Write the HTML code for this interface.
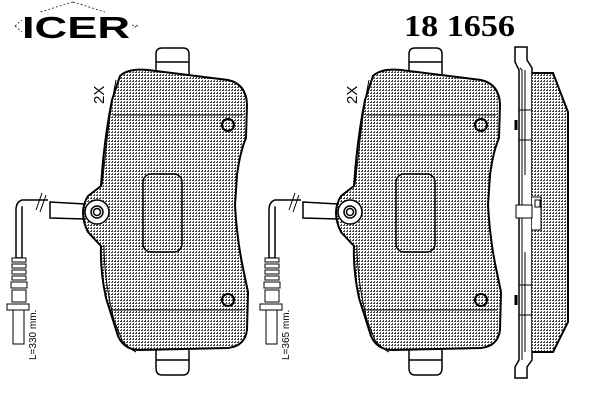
<!DOCTYPE html>
<html><head><meta charset="utf-8"><style>body{margin:0;background:#fff}svg{display:block}</style></head><body>
<svg width="600" height="400" viewBox="0 0 600 400" xmlns="http://www.w3.org/2000/svg">
<defs>
<pattern id="h" width="3" height="3" patternUnits="userSpaceOnUse"><rect width="3" height="3" fill="#fff"/><rect width="2" height="1" fill="#444"/><rect x="1" y="2" width="1" height="1" fill="#444"/></pattern>
<g id="pad" fill="none" stroke="#000" stroke-width="1.5">
<path d="M156,72 L156,54 Q156,48 162,48 L183,48 Q189,48 189,54 L189,74 M156,62 L189,62" />
<path d="M156,346 L156,368 Q156,375 162,375 L183,375 Q189,375 189,368 L189,346 M156,360 L189,360"/>
<path d="M120,76 Q128,68 148,70 L228,80 Q246,84 247,104 L246,138 Q240,152 237,175 L235,205 Q237,240 243,268 L248,292 L247,330 Q245,346 228,348 L140,350 Q124,350 118,336 L106,298 Q100,270 101,246 L88,232 Q78,212 88,196 L101,186 Q104,140 112,100 Z" fill="url(#h)" stroke-width="2"/>
<path d="M116,80 Q110,110 106,150 L102,185 M104,245 Q104,280 114,320 L122,340 Q128,348 136,352" stroke-width="1"/>
<path d="M113,115 L243,115 M110,310 L244,310" stroke-width="1"/>
<circle cx="228" cy="125" r="6" stroke-width="2"/><circle cx="228" cy="300" r="6" stroke-width="2"/>
<rect x="143" y="174" width="39" height="78" rx="8"/>
<circle cx="97" cy="212" r="12" fill="#fff"/><circle cx="97" cy="212" r="6"/><circle cx="97" cy="212" r="3.5"/>
<path d="M85,204 L50,202 L50,218 L85,219"/>
<path d="M48,200 L22,200 Q16,202 16,210 L16,258 M22,207 Q22,206 22,212 L22,258 M16,258 L22,258" stroke-width="1.5"/>
<path d="M36,210 L42,193 M40,212 L46,195" stroke-width="1"/>
<path d="M12,258 h14 v4 h-14z M12,264 h14 v4 h-14z M12,270 h14 v4 h-14z M12,276 h14 v4 h-14z M11,282 h16 v6 h-16z M12,290 h14 v12 h-14z M7,304 h22 v6 h-22z M13,310 h11 v34 h-11z" stroke-width="1" fill="#fff"/>
</g>
</defs>
<text x="22" y="38" font-family="Liberation Sans,sans-serif" font-weight="bold" font-size="31" textLength="108" lengthAdjust="spacingAndGlyphs">ICER</text>
<path d="M15,26 L22,20 M15,26 L22,32 M73,2 L40,12 M73,2 L105,12 M132,25 L138,26 L132,28" stroke="#000" stroke-width="0.7" stroke-dasharray="2,2" fill="none"/>
<text x="404" y="36" font-family="Liberation Serif,serif" font-weight="bold" font-size="31" textLength="111" lengthAdjust="spacingAndGlyphs">18 1656</text>
<use href="#pad"/>
<use href="#pad" transform="translate(253,0)"/>
<text transform="translate(104,104) rotate(-90)" font-family="Liberation Sans,sans-serif" font-size="15">2X</text>
<text transform="translate(357,104) rotate(-90)" font-family="Liberation Sans,sans-serif" font-size="15">2X</text>
<text transform="translate(36,360) rotate(-90)" font-family="Liberation Sans,sans-serif" font-size="10">L=330 mm.</text>
<text transform="translate(289,360) rotate(-90)" font-family="Liberation Sans,sans-serif" font-size="10">L=365 mm.</text>
<g fill="none" stroke="#000" stroke-width="1.5">
<path d="M515,47 L527,47 L527,60 L532,68 L532,360 L527,367 L527,378 L515,378 L515,367 L519,360 L519,70 L515,62 Z"/>
<path d="M532,73 L553,73 L568,112 L568,322 L553,352 L532,352" fill="url(#h)" stroke-width="2"/>
<path d="M520,68 L522,70 L522,360 M525,70 L525,175 M525,252 L525,352 M519,110 L532,110 M519,140 L532,140 M519,285 L532,285 M519,315 L532,315" stroke-width="1"/>
<path d="M516,205 L532,205 L532,218 L516,218 Z M532,197 L541,197 L541,230 L532,230 M535,200 h5 v7 h-5z" stroke-width="1" fill="#fff"/>
<path d="M516,120 L516,130 M516,295 L516,305" stroke-width="3"/>
</g>
</svg>
</body></html>
